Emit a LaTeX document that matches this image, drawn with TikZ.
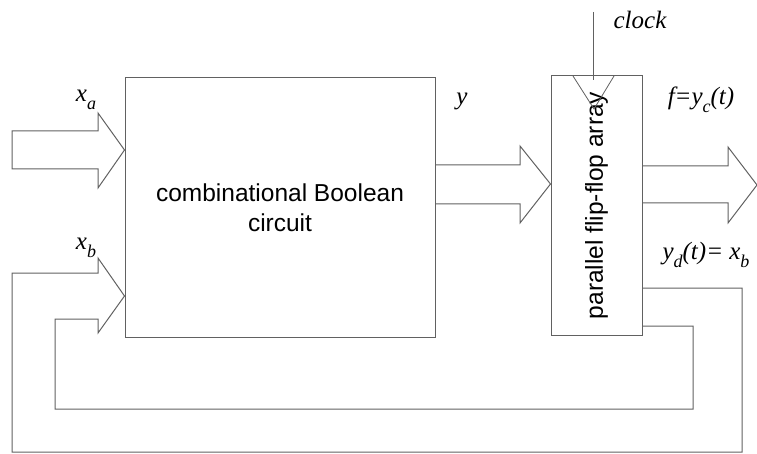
\documentclass[tikz,border=0pt]{standalone}
\usepackage{fontspec}
\setmainfont{Liberation Serif}
\setsansfont{Liberation Sans}
\usetikzlibrary{calc}
% lowered, smaller index letter for the signal names
\newcommand\lowsub[1]{\raisebox{-0.3em}{\fontsize{18}{18}\selectfont #1}}
\begin{document}
\begin{tikzpicture}[x=1pt,y=-1pt,
  wire/.style={draw=black!62,line width=1pt,line join=miter},
  block/.style={draw=black!62,line width=1pt,fill=white,inner sep=0pt,
    font=\sffamily\fontsize{24.5}{30}\selectfont,align=center},
  lbl/.style={font=\itshape\fontsize{25}{25}\selectfont,inner sep=0pt}]
\useasboundingbox (0,0) rectangle (757,454);

% blocks
\node[block,minimum width=310pt,minimum height=259pt] (comb) at (280,207.5)
  {combinational Boolean\\circuit};
\node[block,minimum width=91pt,minimum height=259pt] (ff) at (596.5,205.5) {};
\node[font=\sffamily\fontsize{24.5}{30}\selectfont,rotate=90,inner sep=0pt] (fftext)
  at (ff.center) {parallel flip-flop array};

% input x_a
\draw[wire] (comb.west |- 0,150) -- (98,113) -- (98,131) -- (12,131) -- (12,169)
  -- (98,169) -- (98,188) -- cycle;
% y into the flip-flops
\draw[wire] (comb.east |- 0,165) -- (520,165) -- (520,146) -- (ff.west |- 0,184)
  -- (520,223) -- (520,204) -- (comb.east |- 0,204);
% output f
\draw[wire] (ff.east |- 0,166) -- (728,166) -- (728,147) -- (757,185)
  -- (728,223) -- (728,203) -- (ff.east |- 0,203);

% feedback x_b
\draw[wire] (ff.east |- 0,288) -- (742,288) -- (742,452) -- (12,452) -- (12,273)
  -- (98,273) -- (98,258) -- (comb.west |- 0,296) -- (98,333) -- (98,319)
  -- (55,319) -- (55,409) -- (693,409) -- (693,326) -- (ff.east |- 0,326);

% clock input and edge marker
\coordinate (clk) at (593,12);
\draw[wire,line width=0.8pt] (clk) -- (593,80);
\draw[wire,line width=0.8pt] (573,76) -- (594,109) -- (614,76);

% labels
\node[lbl] (lclock) at (640,20) {clock};
\node[lbl] (lxa) at (86,100) {x\lowsub{a}};
\node[lbl] (lxb) at (86,248) {x\lowsub{b}};
\node[lbl] (ly) at (462,101) {y};
\node[lbl] (lf) at (701,100) {f=y\lowsub{c}(t)};
\node[lbl] (lyd) at (706,255) {y\lowsub{d}(t)= x\lowsub{b}};
\end{tikzpicture}
\end{document}
